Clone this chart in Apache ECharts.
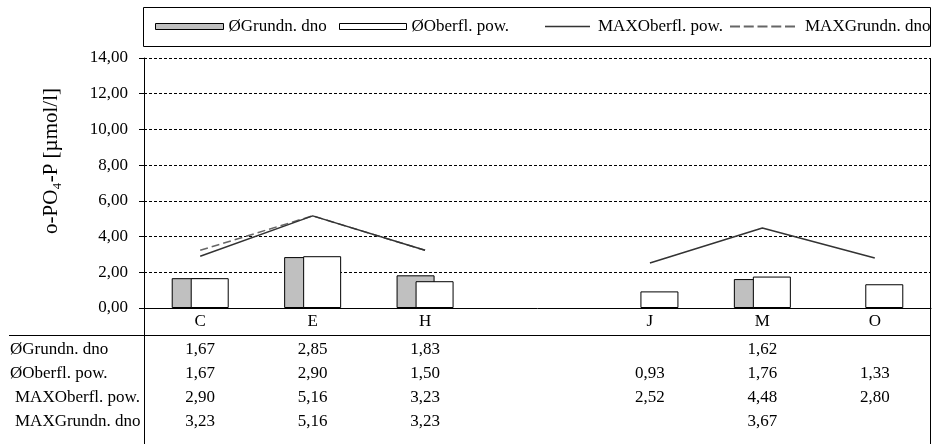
<!DOCTYPE html>
<html>
<head>
<meta charset="utf-8">
<script src="https://cdn.jsdelivr.net/npm/echarts@6/dist/echarts.min.js"></script>
<style>
  html, body { margin: 0; padding: 0; background: #fff; }
  #chart { width: 933px; height: 444px; }
</style>
</head>
<body>
<div id="chart"></div>
<script>
var categories = ['C', 'E', 'H', '', 'J', 'M', 'O'];
var grundnAvg = [1.67, 2.85, 1.83, null, null, 1.62, null];
var oberflAvg = [1.67, 2.90, 1.50, null, 0.93, 1.76, 1.33];
var oberflMax = [2.90, 5.16, 3.23, null, 2.52, 4.48, 2.80];
var grundnMax = [3.23, 5.16, 3.23, null, null, 3.67, null];
var rowNames = ['ØGrundn. dno', 'ØOberfl. pow.', 'MAXOberfl. pow.', 'MAXGrundn. dno'];
var rowValues = [grundnAvg, oberflAvg, oberflMax, grundnMax];

var font = 'Liberation Serif';
var fs = 17;

function fmt(v) {
    return v.toFixed(2).replace('.', ',');
}
function cells(arr) {
    return arr.map(function (v) { return v == null ? '' : fmt(v); });
}
function dash(arr) {
    return arr.map(function (v) { return v == null ? '-' : v; });
}

var chart = echarts.init(document.getElementById('chart'));

// table rows as extra x axes under the plot
var rowOffsets = [33, 57, 81, 105];
var xAxes = [{
    type: 'category',
    data: categories,
    axisLine: { lineStyle: { color: '#000', width: 1 } },
    axisTick: { show: false },
    axisLabel: { color: '#000', fontFamily: font, fontSize: fs, margin: 5, interval: 0 }
}];
rowValues.forEach(function (arr, i) {
    xAxes.push({
        type: 'category',
        data: cells(arr),
        position: 'bottom',
        offset: rowOffsets[i],
        axisLine: { show: false },
        axisTick: { show: false },
        axisLabel: { color: '#000', fontFamily: font, fontSize: fs, margin: 0, interval: 0 }
    });
});

var graphics = [
    { type: 'rect', shape: { x: 143.5, y: 7.5, width: 787, height: 39 }, style: { fill: 'none', stroke: '#000', lineWidth: 1 }, z: 0 },
    { type: 'line', shape: { x1: 9, y1: 335.5, x2: 931, y2: 335.5 }, style: { stroke: '#000', lineWidth: 1 } },
    { type: 'line', shape: { x1: 144.5, y1: 308, x2: 144.5, y2: 444 }, style: { stroke: '#000', lineWidth: 1 } },
    { type: 'line', shape: { x1: 930.5, y1: 58, x2: 930.5, y2: 444 }, style: { stroke: '#000', lineWidth: 1 } }
];
rowNames.forEach(function (name, i) {
    graphics.push({
        type: 'text',
        left: name.indexOf('MAX') === 0 ? 15 : 10,
        top: 308 + rowOffsets[i],
        style: { text: name, fill: '#000', font: fs + 'px "' + font + '"' }
    });
});

// dashed legend icon: five dashes
var dashIcon = 'path://M0,0h10v2h-10z M13.75,0h10v2h-10z M27.5,0h10v2h-10z M41.25,0h10v2h-10z M55,0h10v2h-10z';

function legendItem(name, left, w, h, extra) {
    var l = {
        left: left,
        top: 18,
        padding: 0,
        itemWidth: w,
        itemHeight: h,
        symbolKeepAspect: false,
        data: [{ name: name }],
        textStyle: { color: '#000', fontFamily: font, fontSize: fs },
        selectedMode: false
    };
    if (extra) l.data[0] = Object.assign(l.data[0], extra);
    return l;
}

option = {
    animation: false,
    backgroundColor: '#fff',
    grid: { left: 144, right: 2, top: 58, bottom: 136 },
    legend: [
        legendItem('ØGrundn. dno', 155, 68, 6, { icon: 'rect', itemStyle: { borderWidth: 1 } }),
        legendItem('ØOberfl. pow.', 339, 67, 6, { icon: 'rect', itemStyle: { borderWidth: 1 } }),
        legendItem('MAXOberfl. pow.', 545, 45, 1.5, { icon: 'rect', textStyle: { padding: [0, 0, 0, 3] } }),
        legendItem('MAXGrundn. dno', 730, 65, 2, { icon: dashIcon, textStyle: { padding: [0, 0, 0, 5] } })
    ],
    xAxis: xAxes,
    yAxis: {
        type: 'value',
        min: 0,
        max: 14,
        interval: 2,
        name: 'o-PO₄-P [µmol/l]',
        nameLocation: 'middle',
        nameGap: 82,
        nameTextStyle: { color: '#000', fontFamily: font, fontSize: 21, padding: [0, 0, 0, 44] },
        axisLine: { show: true, lineStyle: { color: '#000', width: 1 } },
        axisTick: { show: true, length: 5, lineStyle: { color: '#000' } },
        axisLabel: {
            color: '#000', fontFamily: font, fontSize: fs, margin: 16,
            formatter: function (v) { return fmt(v); }
        },
        splitLine: { show: true, lineStyle: { color: '#000', type: [3, 2], width: 1 } }
    },
    graphic: graphics,
    series: [
        {
            name: 'ØGrundn. dno',
            type: 'bar',
            data: dash(grundnAvg),
            barWidth: 38,
            barGap: '-50%',
            itemStyle: { color: '#c0c0c0', borderColor: '#000', borderWidth: 1 }
        },
        {
            name: 'ØOberfl. pow.',
            type: 'bar',
            data: dash(oberflAvg),
            barWidth: 38,
            barGap: '-50%',
            itemStyle: { color: '#fff', borderColor: '#000', borderWidth: 1 }
        },
        {
            name: 'MAXOberfl. pow.',
            type: 'line',
            data: dash(oberflMax),
            symbol: 'none',
            connectNulls: false,
            lineStyle: { color: '#333', width: 1.5, type: 'solid' },
            itemStyle: { color: '#333' },
            z: 3
        },
        {
            name: 'MAXGrundn. dno',
            type: 'line',
            data: dash(grundnMax),
            symbol: 'none',
            connectNulls: false,
            lineStyle: { color: '#666', width: 1.5, type: [8, 4] },
            itemStyle: { color: '#666' },
            z: 2
        }
    ]
};
chart.setOption(option);
</script>
</body>
</html>
